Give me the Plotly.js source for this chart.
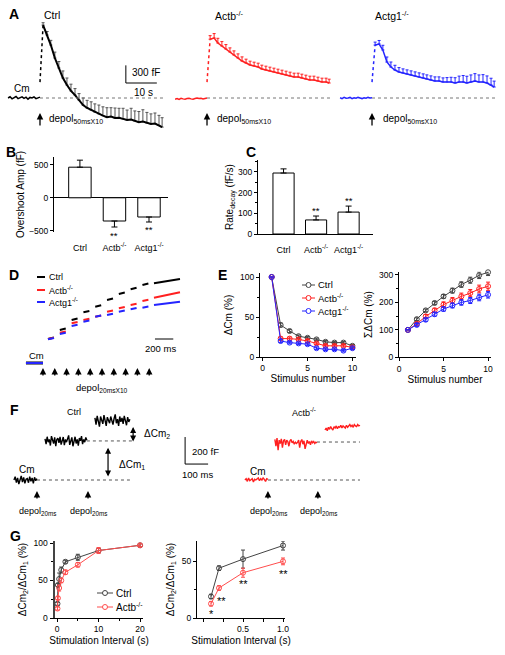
<!DOCTYPE html>
<html>
<head>
<meta charset="utf-8">
<script src="https://cdn.plot.ly/plotly-3.0.1.min.js"></script>
<style>html,body{margin:0;padding:0;background:#fff;}#fig{width:505px;height:655px;}</style>
</head>
<body>
<div id="fig"></div>
<script>
// ================= DATA =================
// Panel A: Cm traces (time in s from stimulus onset, capacitance change in fF)
const A_baseSpan=[-10.3,0];
const A_ctrlBase=[0,20,-15,10,25,-10,5,20,-5,15,-20,10,0,20,-10,5,15];
const A_actbBase=[-20,-10,-25,-5,-15,-20,-10,-5,-15,-20,-10,0,-10,-5,-15,-5,0];
const A_actg1Base=[5,-10,10,-5,0,10,-10,5,-5,10,0,-10,5,-5,10,0,5];
const A_riseStart=[270,270,270];
const A_tDecay=[1.0,2.3,3.5,4.8,6.1,7.4,8.7,10.0,11.3,12.6,13.9,15.2,16.5,17.7,19.0,20.3,21.6,22.9,24.2,25.5,26.8,28.1,29.4,30.6,31.9,33.2,34.5,35.8,37.1,38.4,39.4];
const A_ctrl=[1240,1070,900,680,510,340,220,120,50,-35,-120,-170,-205,-240,-270,-300,-325,-315,-340,-335,-355,-375,-365,-390,-410,-400,-425,-440,-435,-465,-495];
const A_ctrlErr=[40,60,80,100,110,120,120,115,110,110,120,130,140,140,150,150,160,150,170,160,180,170,190,170,180,200,180,170,180,170,160];
const A_actb=[1000,1020,935,884,833,782,731,680,629,595,561,544,527,493,476,459,442,425,408,391,374,357,357,340,323,306,306,289,272,272,255];
const A_actbErr=[60,75,80,75,75,70,70,70,70,65,65,65,65,65,65,65,65,65,65,65,65,65,65,65,65,65,65,65,65,65,65];
const A_actg1=[900,918,816,612,527,476,442,425,408,391,374,357,340,323,306,289,289,272,272,272,255,272,272,255,272,289,272,272,255,221,187];
const A_actg1Err=[50,60,80,85,85,80,75,70,70,70,70,70,70,70,70,70,70,70,75,80,90,100,110,115,120,125,120,125,120,115,100];

// Panel B: overshoot amplitude (fF)
const B_groups=['Ctrl','Actb<sup>-/-</sup>','Actg1<sup>-/-</sup>'];
const B_values=[465,-353,-292];
const B_err=[107,91,76];

// Panel C: decay rate (fF/s)
const C_groups=['Ctrl','Actb<sup>-/-</sup>','Actg1<sup>-/-</sup>'];
const C_values=[295,68,106];
const C_err=[20,19,29];

// Panel D: staircase Cm (ms, fF)
const D_stim=[0,129,258,387,516,645,774,903,1032,1161];
const D_segStart=[55,184,313,442,571,700,829,958,1087,1213];
const D_segEnd=[120,249,378,507,636,765,894,1023,1152,1497];
const D_ctrlStart=[240,330,430,507,563,630,690,737,780,797];
const D_ctrlEnd=[255,345,445,520,578,645,705,752,795,840];
const D_actbStart=[240,303,397,430,463,513,547,580,620,653];
const D_actbEnd=[252,315,409,442,475,525,559,592,632,707];
const D_actg1Start=[237,290,370,413,463,480,513,537,553,580];
const D_actg1End=[249,302,382,425,475,492,525,549,565,613];
const D_baseT=[-186,0];
const D_base=[0,0];

// Panel E
const E_stim=[1,2,3,4,5,6,7,8,9,10];
const E_ctrl=[100,40,32.5,26,24,22,19,18,18,14];
const E_actb=[100,23,23,22,20,17,14,14,14,12];
const E_actg1=[100,20,18,17,16,11,9.6,9.6,8,11];
const E_ctrlErr=[0,2.5,2,1.5,1.5,1.5,1.5,1.5,1.5,1.5];
const E_actbErr=[0,2,2,2,2,1.5,1.5,1.5,1.5,1.5];
const E_actg1Err=[0,2,1.5,1.5,1.5,1.5,1.5,1.5,1.5,1.5];
const E_ctrlSum=[100,139,171,198,222,243,265,281,299,310];
const E_actbSum=[100,122,149,171,192,207,222,234,249,259];
const E_actg1Sum=[100,118,137,157,176,189,200,207,218,228];
const E_ctrlSumErr=[0,5,5,6,7,9,10,11,12,12];
const E_actbSumErr=[0,5,7,8,10,11,12,13,14,15];
const E_actg1SumErr=[0,5,6,7,8,9,10,11,12,12];

// Panel F: paired-pulse Cm (ms, fF)
const F_ctrlStim=[0,222];
const F_actbStim=[0,217];
const F_ctrlSpans=[[-100,0],[35,217],[252,404]];
const F_actbSpans=[[-100,0],[30,213],[248,400]];
const F_ctrlBase=[0,25,-20,15,-30,10,30,-15,20,-25,5,10,-20,25,-10,15,-25,20,-5,10];
const F_ctrlSeg2=[305,265,320,280,300,255,325,290,270,315,250,300,310,275,320,262,290,318,258,300,280,305,330,260,295,315,250,285,320,270,300,255,310,290,325,265,300,280,315,295];
const F_ctrlSeg3=[460,410,475,430,395,470,440,415,480,425,400,465,445,420,470,435,410,455,485,420,450,400,470,430,460,415,475,440,405,465,430,450];
const F_actbBase=[0,10,-10,15,-5,5,10,-15,5,0,10,15,-5,10,0,15,5,-10,10,5];
const F_actbSeg2=[300,250,310,220,295,270,305,240,290,300,260,295,285,250,290,300,275,285,265,280,270,278,295,240,285,300,265,290,230,280,295,270,285,260,290,275,285,270,280,275];
const F_actbSeg3=[370,385,365,390,375,395,380,370,395,385,400,380,395,390,405,385,400,395,385,405,390,400,410,395,405,390,410,400,395,410,400,405];
const F_ctrlLevel=289, F_ctrlLevel2=437, F_actbLevel=281;

// Panel G
const G_interval=[0.1,0.2,0.5,1,2,5,10,20];
const G_ctrl=[19,44,52,64,75,81,90,97];
const G_actb=[12.6,26.5,40,50,61,71,90,97];
const G_ctrlErr=[2,2,8,4,2,4,3,2];
const G_actbErr=[2,2,4,3,3,3,4,2];
const G_zoomInterval=[0.1,0.2,0.5,1.0];

// ================= HELPERS =================
const W=505,H=655,FONT='Liberation Sans, Arial, Helvetica, sans-serif';
const dx=(a,b)=>[a/W,b/W];
const dy=(top,bot)=>[1-bot/H,1-top/H];
const RED='#ff2020',BLUE='#2424ff',GREY='#444';
const TICK=8.5;
function times(t0,t1,n){const o=[];for(let i=0;i<n;i++)o.push(t0+(t1-t0)*i/(n-1));return o;}
const annotations=[],shapes=[],traces=[];
function T(text,x,y,size,anchor,extra){return Object.assign({text:text,x:x/W,y:1-y/H,xref:'paper',yref:'paper',showarrow:false,xanchor:anchor||'left',yanchor:'middle',font:{family:FONT,size:size||10,color:'#000'}},extra||{});}
function ax(o){return Object.assign({showgrid:false,zeroline:false,showline:true,linecolor:'#000',linewidth:1,ticks:'outside',ticklen:3,tickwidth:1,tickcolor:'#000',tickfont:{size:TICK,color:'#000',family:FONT},fixedrange:true},o);}
function hid(o){return Object.assign({visible:false,fixedrange:true},o);}
function ttl(text,size,standoff){return {text:text,font:{family:FONT,size:size||10,color:'#000'},standoff:standoff===undefined?4:standoff};}
function legendItem(x0,x1,y,color,text,marker,tx,lw,fs){
  shapes.push({type:'line',xref:'paper',yref:'paper',x0:x0/W,x1:x1/W,y0:1-y/H,y1:1-y/H,line:{color:color,width:lw||1}});
  if(marker){const c=(x0+x1)/2;shapes.push({type:'circle',xref:'paper',yref:'paper',x0:(c-2.5)/W,x1:(c+2.5)/W,y0:1-(y+2.5)/H,y1:1-(y-2.5)/H,line:{color:color,width:1},fillcolor:'#fff'});}
  annotations.push(T(text,tx,y,fs||9.5));
}
function upArrow(xref,yref,x,y,len){annotations.push({xref:xref,yref:yref,x:x,y:y,ax:0,ay:len,showarrow:true,arrowhead:2,arrowsize:1,arrowwidth:1.3,arrowcolor:'#000',text:''});}

// ================= PANEL A =================
const Agroups=[
 {xa:'x',base:A_ctrlBase,dec:A_ctrl,err:A_ctrlErr,col:'#000',ecol:'#555',w:2,rs:A_riseStart[0]},
 {xa:'x2',base:A_actbBase,dec:A_actb,err:A_actbErr,col:RED,ecol:RED,w:1.5,rs:A_riseStart[1]},
 {xa:'x3',base:A_actg1Base,dec:A_actg1,err:A_actg1Err,col:BLUE,ecol:BLUE,w:1.5,rs:A_riseStart[2]}
];
Agroups.forEach(g=>{
  traces.push({x:times(A_baseSpan[0],A_baseSpan[1],g.base.length),y:g.base,xaxis:g.xa,yaxis:'y',mode:'lines',line:{color:g.col,width:1.5}});
  traces.push({x:[0,A_tDecay[0]],y:[g.rs,g.dec[0]],xaxis:g.xa,yaxis:'y',mode:'lines',line:{color:g.col,width:1.5,dash:'dot'}});
  traces.push({x:A_tDecay,y:g.dec,xaxis:g.xa,yaxis:'y',mode:'lines',line:{color:g.col,width:g.w},
    error_y:{type:'data',symmetric:false,array:g.err,arrayminus:g.err.map(()=>0),color:g.ecol,thickness:1,width:1.5}});
  shapes.push({type:'line',xref:g.xa,yref:'y',x0:0,x1:40.3,y0:0,y1:0,line:{color:'#777',width:1,dash:'dot'}});
  upArrow(g.xa,'y',0,-255,14);
});
shapes.push({type:'line',xref:'x',yref:'y',x0:27.7,x1:27.7,y0:255,y1:555,line:{color:'#000',width:1}});
shapes.push({type:'line',xref:'x',yref:'y',x0:27.7,x1:37.7,y0:255,y1:255,line:{color:'#000',width:1}});
annotations.push(T('<b>A</b>',7,14,14));
annotations.push(T('Ctrl',42,15,10.5));
annotations.push(T('Actb<sup>-/-</sup>',213,15,10.5));
annotations.push(T('Actg1<sup>-/-</sup>',373,15,10.5));
annotations.push(T('Cm',12,89,10));
annotations.push(T('300 fF',130,73,10));
annotations.push(T('10 s',132,92,10));
[47,215,381].forEach(x=>annotations.push(T('depol<sub>50msX10</sub>',x,119,10)));

// ================= PANEL B =================
traces.push({type:'bar',x:B_groups,y:B_values,xaxis:'x4',yaxis:'y4',width:0.65,marker:{color:'#fff',line:{color:'#000',width:1}},
  error_y:{type:'data',symmetric:false,array:B_values.map((v,i)=>v>0?B_err[i]:0),arrayminus:B_values.map((v,i)=>v<0?B_err[i]:0),color:'#000',thickness:1,width:3}});
annotations.push(T('<b>B</b>',4,152,14));
annotations.push(T('**',114,235,9.5,'center'));
annotations.push(T('**',149,230,9.5,'center'));

// ================= PANEL C =================
traces.push({type:'bar',x:C_groups,y:C_values,xaxis:'x5',yaxis:'y5',width:0.65,marker:{color:'#fff',line:{color:'#000',width:1}},
  error_y:{type:'data',symmetric:false,array:C_err,arrayminus:C_err.map(()=>0),color:'#000',thickness:1,width:3}});
annotations.push(T('<b>C</b>',244,152,14));
annotations.push(T('**',316,211,9.5,'center'));
annotations.push(T('**',349,200,9.5,'center'));

// ================= PANEL D =================
function stairs(st,en){const x=[],y=[];D_segStart.forEach((s,i)=>{x.push(s,D_segEnd[i],null);y.push(st[i],en[i],null);});return {x,y};}
[[D_ctrlStart,D_ctrlEnd,'#000'],[D_actbStart,D_actbEnd,RED],[D_actg1Start,D_actg1End,BLUE]].forEach(d=>{
  const s=stairs(d[0],d[1]);
  traces.push({x:s.x,y:s.y,xaxis:'x6',yaxis:'y6',mode:'lines',line:{color:d[2],width:2},connectgaps:false});
});
traces.push({x:D_baseT,y:D_base,xaxis:'x6',yaxis:'y6',mode:'lines',line:{color:'#000',width:3}});
traces.push({x:D_baseT,y:D_base,xaxis:'x6',yaxis:'y6',mode:'lines',line:{color:BLUE,width:2}});
D_stim.forEach(t=>upArrow('x6','y6',t,-50,9));
shapes.push({type:'line',xref:'x6',yref:'y6',x0:1224,x1:1424,y0:240,y1:240,line:{color:'#000',width:1}});
annotations.push(T('<b>D</b>',7,275,14));
legendItem(37,45,277,'#000','Ctrl',false,47,2,9);
legendItem(37,45,290,RED,'Actb<sup>-/-</sup>',false,47,2,9);
legendItem(37,45,302,BLUE,'Actg1<sup>-/-</sup>',false,47,2,9);
annotations.push(T('Cm',27,355,9.5));
annotations.push(T('200 ms',160,348,9.5,'center'));
annotations.push(T('depol<sub>20msX10</sub>',74,388,9.5));

// ================= PANEL E =================
function series(x,y,e,col,xa,ya){traces.push({x:x,y:y,xaxis:xa,yaxis:ya,mode:'lines+markers',cliponaxis:false,line:{color:col,width:1},
  marker:{symbol:'circle-open',size:5,color:col,line:{width:1}},error_y:{type:'data',array:e,color:col,thickness:1,width:2}});}
series(E_stim,E_ctrl,E_ctrlErr,GREY,'x7','y7');
series(E_stim,E_actb,E_actbErr,RED,'x7','y7');
series(E_stim,E_actg1,E_actg1Err,BLUE,'x7','y7');
series(E_stim,E_ctrlSum,E_ctrlSumErr,GREY,'x8','y8');
series(E_stim,E_actbSum,E_actbSumErr,RED,'x8','y8');
series(E_stim,E_actg1Sum,E_actg1SumErr,BLUE,'x8','y8');
annotations.push(T('<b>E</b>',216,275,14));
legendItem(302,315,285,GREY,'Ctrl',true,316,1,9.5);
legendItem(302,315,298,RED,'Actb<sup>-/-</sup>',true,316,1,9.5);
legendItem(302,315,311,BLUE,'Actg1<sup>-/-</sup>',true,316,1,9.5);

// ================= PANEL F =================
function fTrace(spans,segs,col,xa){const x=[],y=[];segs.forEach((s,i)=>{times(spans[i][0],spans[i][1],s.length).forEach((t,j)=>{x.push(t);y.push(s[j]);});x.push(null);y.push(null);});
  traces.push({x:x,y:y,xaxis:xa,yaxis:'y9',mode:'lines',line:{color:col,width:1.4},connectgaps:false});}
fTrace(F_ctrlSpans,[F_ctrlBase,F_ctrlSeg2,F_ctrlSeg3],'#000','x9');
fTrace(F_actbSpans,[F_actbBase,F_actbSeg2,F_actbSeg3],RED,'x10');
const dotL={color:'#555',width:1,dash:'dot'};
shapes.push({type:'line',xref:'x9',yref:'y9',x0:0,x1:404,y0:0,y1:0,line:dotL});
shapes.push({type:'line',xref:'x9',yref:'y9',x0:217,x1:417,y0:F_ctrlLevel,y1:F_ctrlLevel,line:dotL});
shapes.push({type:'line',xref:'x10',yref:'y9',x0:0,x1:400,y0:0,y1:0,line:dotL});
shapes.push({type:'line',xref:'x10',yref:'y9',x0:213,x1:400,y0:F_actbLevel,y1:F_actbLevel,line:dotL});
F_ctrlStim.forEach(t=>upArrow('x9','y9',t,-81,9));
F_actbStim.forEach(t=>upArrow('x10','y9',t,-81,9));
annotations.push({xref:'x9',yref:'y9',axref:'x9',ayref:'y9',x:309,y:F_ctrlLevel-50,ax:309,ay:15,showarrow:true,arrowside:'end+start',arrowhead:2,arrowsize:1,arrowwidth:1.2,arrowcolor:'#000',text:''});
annotations.push({xref:'x9',yref:'y9',axref:'x9',ayref:'y9',x:418,y:F_ctrlLevel2-45,ax:418,ay:F_ctrlLevel-15,showarrow:true,arrowside:'end+start',arrowhead:2,arrowsize:1,arrowwidth:1.2,arrowcolor:'#000',text:''});
shapes.push({type:'line',xref:'x9',yref:'y9',x0:644,x1:644,y0:118,y1:318,line:{color:'#000',width:1}});
shapes.push({type:'line',xref:'x9',yref:'y9',x0:644,x1:744,y0:118,y1:118,line:{color:'#000',width:1}});
annotations.push(T('<b>F</b>',8,410,14));
annotations.push(T('Ctrl',65,412,9));
annotations.push(T('Actb<sup>-/-</sup>',290,412,9));
annotations.push(T('Cm',17,469,10));
annotations.push(T('Cm',248,471,10));
annotations.push(T('ΔCm<sub>1</sub>',117,465,10));
annotations.push(T('ΔCm<sub>2</sub>',142,434,10));
annotations.push(T('200 fF',190,452,9.5));
annotations.push(T('100 ms',197,474,9.5,'center'));
[37,88,268,318].forEach(x=>annotations.push(T('depol<sub>20ms</sub>',x,511,9,'center')));

// ================= PANEL G =================
series(G_interval,G_ctrl,G_ctrlErr,GREY,'x11','y11');
series(G_interval,G_actb,G_actbErr,'#ff4d4d','x11','y11');
series(G_zoomInterval,G_ctrl.slice(0,4),G_ctrlErr.slice(0,4),GREY,'x12','y12');
series(G_zoomInterval,G_actb.slice(0,4),G_actbErr.slice(0,4),'#ff4d4d','x12','y12');
annotations.push(T('<b>G</b>',8,536,14));
legendItem(97,113,593,GREY,'Ctrl',true,114,1,10);
legendItem(97,113,607,'#ff4d4d','Actb<sup>-/-</sup>',true,114,1,10);
annotations.push(T('*',211,614,11,'center'));
annotations.push(T('**',221,601,11,'center'));
annotations.push(T('**',243,584,11,'center'));
annotations.push(T('**',283,574,11,'center'));

// ================= LAYOUT =================
const catFont={size:9,family:FONT,color:'#000'};
const layout={
  width:W,height:H,margin:{l:0,r:0,t:0,b:0},showlegend:false,paper_bgcolor:'#fff',plot_bgcolor:'rgba(0,0,0,0)',
  font:{family:FONT,color:'#000'},
  // A
  xaxis:hid({domain:dx(0,168),range:[-12.9,41.3],anchor:'y'}),
  xaxis2:hid({domain:dx(170,338),range:[-11.94,42.26],anchor:'y'}),
  xaxis3:hid({domain:dx(338,505),range:[-10.97,42.9],anchor:'y'}),
  yaxis:hid({domain:dy(20,135),range:[-629,1326],anchor:'x'}),
  // B
  xaxis4:ax({domain:dx(54,168),range:[-0.75,2.55],anchor:'y4',showline:false,ticks:'',ticklabelstandoff:9,tickfont:catFont}),
  yaxis4:ax({domain:dy(157,232),range:[-520,620],anchor:'x4',tickvals:[-500,0,500],zeroline:true,zerolinecolor:'#000',zerolinewidth:1,title:ttl('Overshoot Amp (fF)',10,2)}),
  // C
  xaxis5:ax({domain:dx(258,373),range:[-0.785,2.75],anchor:'y5',ticks:'',ticklabelstandoff:7,tickfont:catFont}),
  yaxis5:ax({domain:dy(160,234),range:[0,358],anchor:'x5',dtick:100,minor:{dtick:50,ticks:'outside',ticklen:2,tickcolor:'#000'},title:ttl('Rate<sub>decay</sub> (fF/s)',10,2)}),
  // D
  xaxis6:hid({domain:dx(20,185),range:[-251,1552],anchor:'y6'}),
  yaxis6:hid({domain:dy(270,380),range:[-170,930],anchor:'x6'}),
  // E
  xaxis7:ax({domain:dx(260,356),range:[-0.3,10.4],anchor:'y7',tickvals:[0,5,10],title:ttl('Stimulus number',10,2)}),
  yaxis7:ax({domain:dy(273,357),range:[0,105],anchor:'x7',dtick:50,minor:{dtick:25,ticks:'outside',ticklen:2,tickcolor:'#000'},title:ttl('ΔCm (%)',10,5)}),
  xaxis8:ax({domain:dx(399,491),range:[0,10.33],anchor:'y8',tickvals:[0,5,10],title:ttl('Stimulus number',10,2)}),
  yaxis8:ax({domain:dy(271.7,357.3),range:[0,312],anchor:'x8',dtick:100,minor:{dtick:50,ticks:'outside',ticklen:2,tickcolor:'#000'},title:ttl('ΣΔCm (%)',10,4)}),
  // F
  xaxis9:hid({domain:dx(5,215),range:[-139,774],anchor:'y9'}),
  xaxis10:hid({domain:dx(230,400),range:[-165,574],anchor:'y9'}),
  yaxis9:hid({domain:dy(405,505),range:[-185,555],anchor:'x9'}),
  // G
  xaxis11:ax({domain:dx(55,143),range:[-0.5,20.7],anchor:'y11',tickvals:[0,10,20],minor:{dtick:5,ticks:'outside',ticklen:2,tickcolor:'#000'},title:ttl('Stimulation Interval (s)',10,3)}),
  yaxis11:ax({domain:dy(541,618),range:[0,102.7],anchor:'x11',dtick:50,linewidth:2.5,linecolor:'#444',minor:{dtick:25,ticks:'outside',ticklen:2,tickcolor:'#000'},title:ttl('ΔCm<sub>2</sub>/ΔCm<sub>1</sub> (%)',10,5)}),
  xaxis12:ax({domain:dx(197,285),range:[-0.075,1.025],anchor:'y12',tickvals:[0,0.25,0.5,0.75,1.0],ticktext:['','','0.5','','1.0'],title:ttl('Stimulation Interval (s)',10,3)}),
  yaxis12:ax({domain:dy(541,618),range:[0,68],anchor:'x12',dtick:50,minor:{dtick:25,ticks:'outside',ticklen:2,tickcolor:'#000'},title:ttl('ΔCm<sub>2</sub>/ΔCm<sub>1</sub> (%)',10,5)}),
  shapes:shapes,annotations:annotations
};
Plotly.newPlot('fig',traces,layout,{staticPlot:true,displayModeBar:false});
</script>
</body>
</html>
